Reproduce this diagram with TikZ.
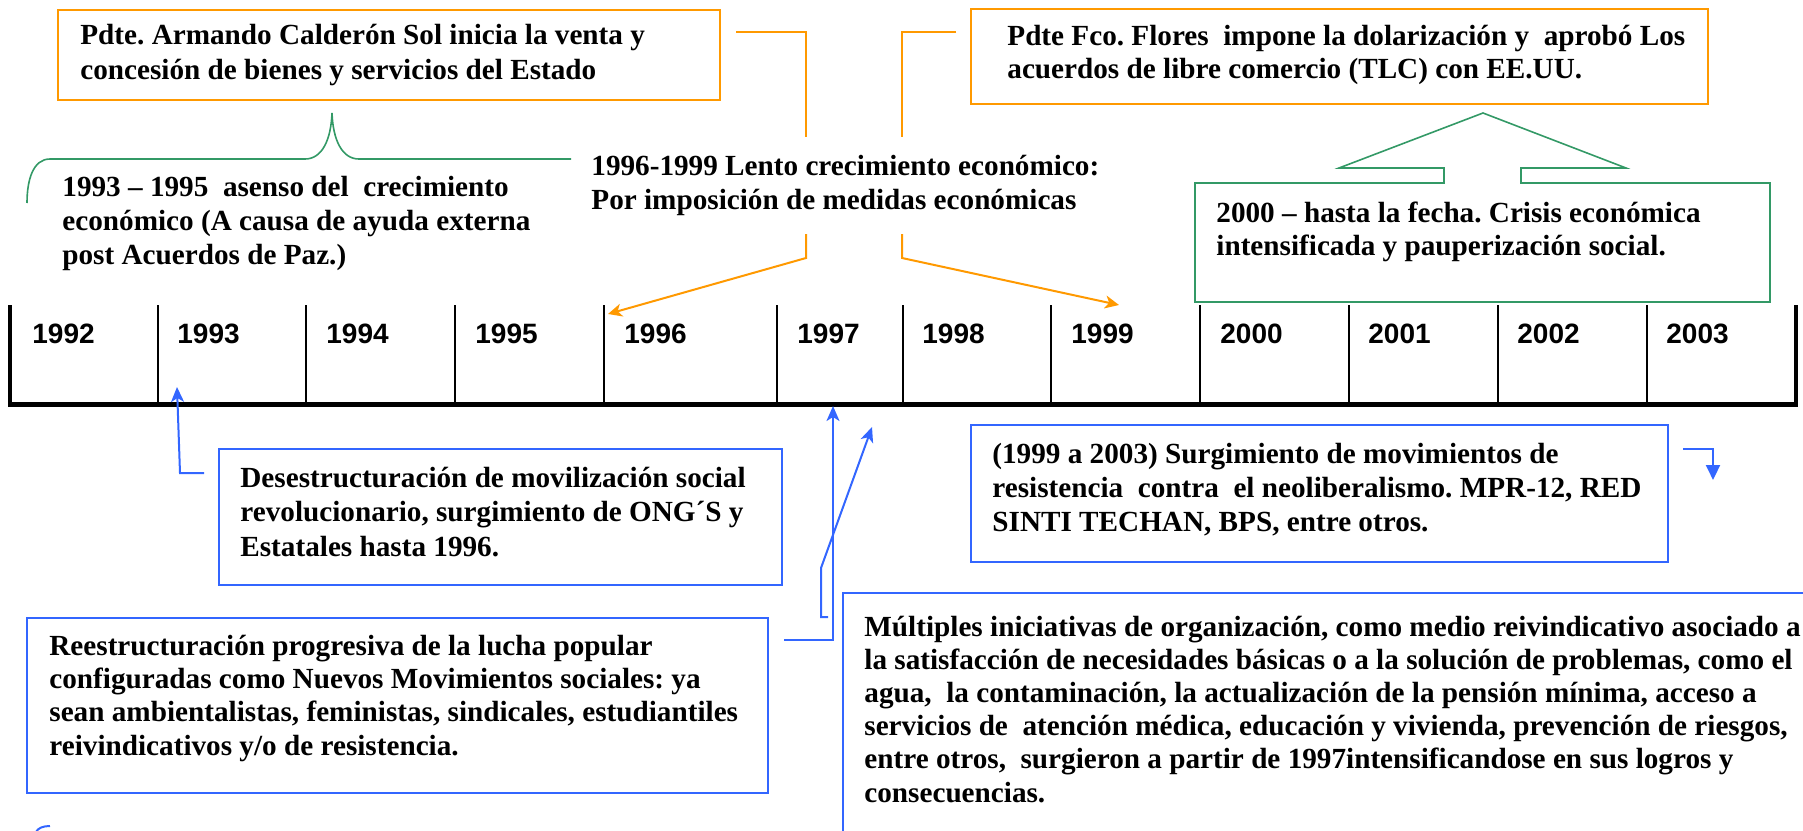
\documentclass[tikz,border=0pt]{standalone}
\usepackage{fontspec}
\setmainfont{Liberation Serif}
\newfontfamily\arialf{Liberation Sans}
\usetikzlibrary{arrows.meta,fit}
\definecolor{orng}{HTML}{FF9900}
\definecolor{grn}{HTML}{339966}
\definecolor{blu}{HTML}{3366FF}
\frenchspacing
\newcommand\txtb[2]{{\fontsize{14.6}{#1}\selectfont\bfseries\begin{tabular}[t]{@{}l@{}}#2\end{tabular}}}
\newcommand\yrfont{\arialf\bfseries\fontsize{14}{17}\selectfont}
\begin{document}
\begin{tikzpicture}[x=0.5pt,y=-0.5pt,
  txt/.style={anchor=base west,inner sep=0pt},
  yr/.style={anchor=base west,inner sep=0pt,font=\yrfont},
  obox/.style={draw=orng,line width=1.1pt,inner sep=0pt},
  bbox/.style={draw=blu,line width=1.1pt,inner sep=0pt},
  oline/.style={draw=orng,line width=1pt},
  bline/.style={draw=blu,line width=1pt},
  gline/.style={draw=grn,line width=0.8pt},
  oarr/.style={oline,-{Stealth[length=7pt,width=6.5pt,inset=2pt]}},
  barr/.style={bline,-{Stealth[length=7.5pt,width=6.5pt,inset=2pt]}},
  tick/.style={line width=1pt},
  ]
\useasboundingbox (0,0) rectangle (1803,830);
\clip (0,0) rectangle (1803,830);

% ---------- timeline ----------
\foreach \x in {158,306,455,604,777,903,1051,1200,1349,1498,1647}
  \draw[tick] (\x,305) -- (\x,404);
\draw[line width=2pt] (10,305) -- (10,404);
\draw[line width=2pt] (1796,305) -- (1796,404);
\draw[line width=2.5pt] (8,404) -- (1798,404);
\node[yr] (y1992) at (32,343) {1992};
\node[yr] (y1993) at (177,343) {1993};
\node[yr] (y1994) at (326,343) {1994};
\node[yr] (y1995) at (475,343) {1995};
\node[yr] (y1996) at (624,343) {1996};
\node[yr] (y1997) at (797,343) {1997};
\node[yr] (y1998) at (922,343) {1998};
\node[yr] (y1999) at (1071,343) {1999};
\node[yr] (y2000) at (1220,343) {2000};
\node[yr] (y2001) at (1368,343) {2001};
\node[yr] (y2002) at (1517,343) {2002};
\node[yr] (y2003) at (1666,343) {2003};

% ---------- orange boxes ----------
\node[obox,fit={(58,10) (720,100)}] (boxA) {};
\node[txt] (tA) at (80,44) {\txtb{17.5}{Pdte. Armando Calderón Sol inicia la venta y\\concesión de bienes y servicios del Estado}};
\node[obox,fit={(971,9) (1708,104)}] (boxB) {};
\node[txt] (tB) at (1007,45) {\txtb{17}{Pdte Fco. Flores\ \ impone la dolarización y\ \ aprobó Los\\acuerdos de libre comercio (TLC) con EE.UU.}};

\node[txt] (t9699) at (591,175) {\txtb{17}{1996-1999 Lento crecimiento económico:\\Por imposición de medidas económicas}};
\node[txt] (t9395) at (62,196) {\txtb{17}{1993 – 1995\ \ asenso del\ \ crecimiento\\económico (A causa de ayuda externa\\post Acuerdos de Paz.)}};

% orange connectors
\coordinate (oa1) at (736,32);
\coordinate (oa2) at (806,32);
\coordinate (oa3) at (806,137);
\coordinate (ob1) at (956,32);
\coordinate (ob2) at (902,32);
\coordinate (ob3) at (902,137);
\draw[oline] (oa1) -- (oa2) -- (oa3);
\draw[oline] (ob1) -- (ob2) -- (ob3);
\coordinate (oc1) at (806,234);
\coordinate (oc2) at (806,258);
\coordinate (oc3) at (608,314);
\coordinate (od1) at (902,234);
\coordinate (od2) at (902,258);
\coordinate (od3) at (1119,305);
\draw[oarr] (oc1) -- (oc2) -- (oc3);
\draw[oarr] (od1) -- (od2) -- (od3);

% ---------- green ----------
\draw[gline] (27,203) .. controls (27,180) and (33,159) .. (50,159) -- (305,159)
  .. controls (322,159) and (331,140) .. (332,113)
  .. controls (333,140) and (342,159) .. (359,159) -- (571,159);
\draw[gline] (1195,302) -- (1195,183) -- (1444,183) -- (1444,168) -- (1339,168)
  -- (1483,113) -- (1626,168) -- (1521,168) -- (1521,183) -- (1770,183)
  -- (1770,302) -- cycle;
\node[txt] (tC) at (1216,222) {\txtb{16.5}{2000 – hasta la fecha. Crisis económica\\intensificada y pauperización social.}};

% ---------- blue boxes ----------
\node[bbox,fit={(219,449) (782,585)}] (boxD) {};
\node[txt] (tD) at (240,487) {\txtb{17.25}{Desestructuración de movilización social\\revolucionario, surgimiento de ONG´S y\\Estatales hasta 1996.}};
\node[bbox,fit={(27,618) (768,793)}] (boxE) {};
\node[txt] (tE) at (49,655) {\txtb{16.7}{Reestructuración progresiva de la lucha popular\\configuradas como Nuevos Movimientos sociales: ya\\sean ambientalistas, feministas, sindicales, estudiantiles\\reivindicativos y/o de resistencia.}};
\node[bbox,fit={(843,593) (1830,860)}] (boxF) {};
\node[txt] (tF) at (864,636) {\txtb{16.6}{Múltiples iniciativas de organización, como medio reivindicativo asociado a\\la satisfacción de necesidades básicas o a la solución de problemas, como el\\agua,\ \ la contaminación, la actualización de la pensión mínima, acceso a\\servicios de\ \ atención médica, educación y vivienda, prevención de riesgos,\\entre otros,\ \ surgieron a partir de 1997intensificandose en sus logros y\\consecuencias.}};
\node[bbox,fit={(971,425) (1668,562)}] (boxG) {};
\node[txt] (tG) at (992,463) {\txtb{17}{(1999 a 2003) Surgimiento de movimientos de\\resistencia\ \ contra\ \ el neoliberalismo. MPR-12, RED\\SINTI TECHAN, BPS, entre otros.}};

% blue connectors
\coordinate (bd1) at (204,473);
\coordinate (bd2) at (180,473);
\coordinate (bd3) at (177,387);
\draw[barr] (bd1) -- (bd2) -- (bd3);
\coordinate (be1) at (784,640);
\coordinate (be2) at (833,640);
\coordinate (be3) at (833,406);
\draw[barr] (be1) -- (be2) -- (be3);
\coordinate (bf1) at (828,617);
\coordinate (bf2) at (821,617);
\coordinate (bf3) at (821,568);
\coordinate (bf4) at (872,427);
\draw[barr] (bf1) -- (bf2) -- (bf3) -- (bf4);
\coordinate (bg1) at (1683,449);
\coordinate (bg2) at (1713,449);
\coordinate (bg3) at (1713,480);
\draw[bline,-{Triangle[length=7.5pt,width=7pt]}] (bg1) -- (bg2) -- (bg3);
\draw[bline] (36,832) .. controls (38,828) and (43,826) .. (50,826);
\end{tikzpicture}
\end{document}
